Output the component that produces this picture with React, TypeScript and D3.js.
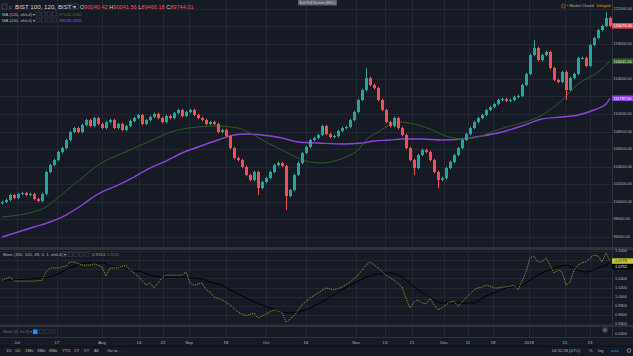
import React, { useEffect } from 'react';
import * as d3 from 'd3';

// ---------- DATA ----------
const closes = [
  99940,100170,100740,100400,100860,100970,100740,100860,100280,100060,
  100860,103370,104170,104740,105660,106110,107030,107940,108400,107940,
  108740,109310,108630,109540,108860,108400,109080,109310,108400,108860,
  108170,108630,109200,109540,109890,108860,109310,109660,110000,109540,
  109080,109770,109540,110110,110460,109770,110230,110460,109890,109540,
  109310,108860,109080,108860,107940,108170,107480,106110,104970,104740,
  103940,103030,102460,103370,101540,102230,102680,103370,104170,104400,
  104060,100630,101310,103030,104400,105540,106230,107030,107260,107600,
  108630,107710,107370,107480,108060,108400,108510,109310,110230,111600,
  112740,114110,113310,112970,111600,110460,109080,108630,109540,108400,
  107600,106110,104740,103830,105310,105880,105660,104740,103370,102460,
  102680,103830,104510,105310,106110,107030,107710,108400,109080,109540,
  109890,110460,110800,111140,111600,111710,111490,111600,111940,112060,
  113310,114570,116740,117540,116170,116740,117090,115260,113890,113660,
  114800,112740,114110,114570,116400,116400,115490,117890,118690,119600,
  120060,120970,120076,
];
const firstOpen = 99800;
// notable wick extremes: [barIndex, high, low]
const wickExtremes: [number, number | null, number | null][] = [
  [64, null, 100740], [71, null, 99030], [91, 115260, null], [103, null, 103030],
  [109, null, 101540], [133, 118460, null], [141, null, 111600], [151, 121660, null],
];
const wickPad = 150;

const ma120Idx = [0,10,13,16,20,24,29,32,37,43,49,53,59,62,66,70,74,77,80,83,86,89,91,94,96,99,103,107,111,115,119,123,127,130,133,137,140,144,149,152];
const ma120Val = [98226,99140,100055,101198,102684,104170,105313,105884,106913,108056,108513,108627,108399,107827,106798,105884,104970,104512,104398,104627,105084,105884,107027,107941,108513,109084,108856,108284,107484,107141,107370,108056,108627,108970,109427,110456,111599,113428,114799,116041];

const ma240Idx = [0,8,12,16,20,24,29,33,37,41,45,49,54,58,61,65,70,74,79,85,90,93,97,100,105,110,115,120,125,130,135,140,144,148,151,152];
const ma240Val = [95940,97083,97654,98455,99598,100855,101884,102798,103827,104627,105541,106227,107027,107599,107713,107599,107256,106798,106684,106570,106684,106913,107027,107141,107141,107027,107141,107484,107941,108627,109427,109656,109885,110456,111142,111797];

const momIdx = [0,2,3,6,8,10,11,12,14,16,17,18,20,22,23,25,26,27,29,31,32,33,35,36,37,38,40,41,43,45,46,47,48,50,51,52,53,55,57,59,61,63,64,66,68,70,71,73,75,77,79,81,83,85,87,89,91,92,94,96,98,100,101,102,103,104,105,106,107,108,109,110,111,112,113,114,115,116,117,118,119,120,121,122,123,124,125,126,127,128,129,130,131,132,133,134,135,136,137,138,139,140,141,142,143,144,145,146,147,148,149,150,151,152];
const momVal = [1.036,1.043,1.034,1.034,1.034,1.036,1.054,1.063,1.063,1.067,1.076,1.076,1.069,1.069,1.072,1.065,1.045,1.063,1.063,1.069,1.058,1.052,1.036,1.025,1.030,1.019,1.041,1.047,1.047,1.047,1.054,1.030,1.025,1.030,1.015,1.010,0.999,0.993,0.982,0.966,0.958,0.964,0.953,0.962,0.971,0.966,0.944,0.958,0.982,0.997,1.008,1.019,1.015,1.021,1.032,1.047,1.069,1.076,1.063,1.047,1.036,1.021,0.997,0.975,0.988,0.993,0.986,0.984,0.997,0.982,0.971,0.975,0.982,0.988,0.990,0.979,0.988,0.997,1.006,1.015,1.019,1.021,1.025,1.023,1.019,1.019,1.021,1.021,1.023,1.025,1.015,1.034,1.054,1.085,1.089,1.076,1.076,1.085,1.069,1.052,1.058,1.054,1.025,1.032,1.058,1.069,1.074,1.076,1.085,1.091,1.089,1.076,1.096,1.0779];

const momSigIdx = [0,10,12,15,18,22,25,27,30,32,35,37,40,45,47,50,52,55,57,62,67,72,77,82,87,92,97,100,103,106,110,115,118,120,123,126,130,132,135,139,141,144,146,149,151,152];
const momSigVal = [1.036,1.041,1.043,1.054,1.067,1.074,1.074,1.067,1.063,1.058,1.054,1.047,1.043,1.043,1.041,1.039,1.032,1.025,1.015,0.993,0.975,0.964,0.975,0.999,1.025,1.045,1.052,1.043,1.021,1.004,0.986,0.986,0.986,0.997,1.008,1.019,1.025,1.036,1.052,1.065,1.069,1.058,1.054,1.063,1.069,1.0752];

const priceTicks = [96000,98000,100000,102000,104000,106000,108000,110000,112000,114000,116000,118000,120000,122000];
const momTicks = [0.94,0.96,0.98,1.0,1.02,1.04,1.06,1.08,1.10];
const timeLabels = ['Jul','17','Aug','14','22','Sep','18','Oct','16','Nov','13','21','Dec','11','18','2018','15','23'];
const timePos = [3.75,13.75,25,34.25,40.25,46.75,56,66,76,88.5,95.75,102.5,110.5,116.5,122.75,131.75,140.75,147];
const rangeButtons = ['1D','5D','1Mo','3Mo','6Mo','YTD','1Y','5Y','All','Go to...'];
const rangeButtonX = [6,15,25,37,49,62,74,84,94,107];

// ---------- STYLE ----------
const BG = '#161a25';
const GRID = '#232734';
const SEP = '#2e323e';
const TXT = '#b2b5be';
const UP = '#26a69a';
const DOWN = '#ef5350';
const FONT = '"Liberation Sans", Arial, sans-serif';
const W = 633, H = 356;
const PR = 612;
const AX_FS = 3.9;

export default function App() {
  useEffect(() => { document.body.style.margin = '0'; }, []);

  const x = d3.scaleLinear().domain([-0.5, closes.length - 0.5]).range([0, PR]);
  const yP = d3.scaleLinear().domain([96000, 122000]).range([236.5, 9]);
  const yM = d3.scaleLinear().domain([0.94, 1.10]).range([324, 251]);

  const candles = closes.map((c, i) => {
    const o = i === 0 ? firstOpen : closes[i - 1];
    let h = Math.max(o, c) + wickPad;
    let l = Math.min(o, c) - wickPad;
    const ex = wickExtremes.find(e => e[0] === i);
    if (ex) { if (ex[1] != null) h = ex[1]; if (ex[2] != null) l = ex[2]; }
    return { i, o, h, l, c };
  });

  const lineP = d3.line<[number, number]>().x(d => x(d[0])).y(d => yP(d[1])).curve(d3.curveMonotoneX);
  const lineM = d3.line<[number, number]>().x(d => x(d[0])).y(d => yM(d[1])).curve(d3.curveLinear);
  const lineMs = d3.line<[number, number]>().x(d => x(d[0])).y(d => yM(d[1])).curve(d3.curveMonotoneX);

  const ma120 = ma120Idx.map((k, j) => [k, ma120Val[j]] as [number, number]);
  const ma240 = ma240Idx.map((k, j) => [k, ma240Val[j]] as [number, number]);
  const mom = momIdx.map((k, j) => [k, momVal[j]] as [number, number]);
  const momSig = momSigIdx.map((k, j) => [k, momSigVal[j]] as [number, number]);

  const lastC = closes[closes.length - 1];
  const lastG = ma120Val[ma120Val.length - 1];
  const lastPu = ma240Val[ma240Val.length - 1];
  const lastM = momVal[momVal.length - 1];
  const lastMs = momSigVal[momSigVal.length - 1];

  const markerYs = [yP(lastC), yP(lastG), yP(lastPu)];
  const momMarkerYs = [yM(lastM), yM(lastM) + 5.6];

  const priceLabel = (v: number, bg: string, fg: string) => (
    <g>
      <rect x={PR} y={yP(v) - 2.8} width={W - PR} height={5.6} fill={bg} />
      <text x={PR + 1.6} y={yP(v) + 1.4} fontSize={AX_FS} fill={fg} fontFamily={FONT}>{v.toFixed(2)}</text>
    </g>
  );

  return (
    <svg width={W} height={H} style={{ position: 'absolute', left: 0, top: 0, display: 'block' }}>
      <defs>
        <clipPath id="mainClip"><rect x={0} y={0} width={PR} height={247} /></clipPath>
        <clipPath id="momClip"><rect x={0} y={250} width={PR} height={75} /></clipPath>
      </defs>
      <rect x={0} y={0} width={W} height={H} fill={BG} />

      {/* vertical grid */}
      {timePos.map((p, k) => (
        <line key={'vg' + k} x1={Math.round(x(p)) + 0.5} x2={Math.round(x(p)) + 0.5} y1={0} y2={338} stroke={GRID} strokeWidth={1} />
      ))}
      {/* horizontal grid */}
      {priceTicks.map(t => (
        <line key={'hg' + t} x1={0} x2={PR} y1={Math.round(yP(t)) + 0.5} y2={Math.round(yP(t)) + 0.5} stroke={GRID} />
      ))}
      {momTicks.map(t => (
        <line key={'mg' + t} x1={0} x2={PR} y1={Math.round(yM(t)) + 0.5} y2={Math.round(yM(t)) + 0.5} stroke={GRID} />
      ))}

      {/* main pane */}
      <g clipPath="url(#mainClip)">
        <path d={lineP(ma240) || ''} fill="none" stroke="#8a45d8" strokeWidth={1.4} />
        <path d={lineP(ma120) || ''} fill="none" stroke="#2f5a22" strokeWidth={1} />
        {candles.map(d => {
          const cx = Math.round(x(d.i));
          const col = d.c >= d.o ? UP : DOWN;
          const top = yP(Math.max(d.o, d.c));
          const bot = yP(Math.min(d.o, d.c));
          return (
            <g key={d.i}>
              <rect x={cx} y={yP(d.h)} width={1} height={Math.max(1, yP(d.l) - yP(d.h))} fill={col} />
              <rect x={cx - 1} y={top} width={3} height={Math.max(1, bot - top)} fill={col} />
            </g>
          );
        })}
      </g>

      {/* momentum pane */}
      <g clipPath="url(#momClip)">
        <path d={lineMs(momSig) || ''} fill="none" stroke="#000000" strokeWidth={1} />
        <path d={lineM(mom) || ''} fill="none" stroke="#9e9e2a" strokeWidth={1} strokeDasharray="1,1" />
      </g>

      {/* separators */}
      <rect x={0} y={247} width={W} height={3} fill={SEP} />
      <rect x={0} y={325} width={W} height={2} fill={SEP} />
      <rect x={0} y={337} width={W} height={1} fill={SEP} />
      <rect x={0} y={346} width={W} height={1} fill="#0e1118" />
      <rect x={PR} y={0} width={1} height={338} fill={SEP} />

      {/* price axis */}
      {priceTicks.filter(t => markerYs.every(m => Math.abs(m - yP(t)) > 5.5)).map(t => (
        <text key={'pt' + t} x={PR + 1.6} y={yP(t) + 1.4} fontSize={AX_FS} fill={TXT} fontFamily={FONT}>{t.toFixed(2)}</text>
      ))}
      {priceLabel(lastC, '#e8455a', '#ffffff')}
      {priceLabel(lastG, '#2f5a22', '#e8eadf')}
      {priceLabel(lastPu, '#8a45d8', '#ffffff')}

      {/* momentum axis */}
      {momTicks.filter(t => momMarkerYs.every(m => Math.abs(m - yM(t)) > 5)).map(t => (
        <text key={'mt' + t} x={PR + 3} y={yM(t) + 1.4} fontSize={AX_FS} fill={TXT} fontFamily={FONT}>{t.toFixed(4)}</text>
      ))}
      <rect x={PR} y={yM(lastM) - 2.8} width={W - PR} height={5.6} fill="#c4c43a" />
      <text x={PR + 3} y={yM(lastM) + 1.4} fontSize={AX_FS} fill="#161a25" fontFamily={FONT}>{lastM.toFixed(4)}</text>
      <rect x={PR} y={yM(lastM) + 2.8} width={W - PR} height={5.6} fill="#000000" />
      <text x={PR + 3} y={yM(lastM) + 7} fontSize={AX_FS} fill="#ffffff" fontFamily={FONT}>{lastMs.toFixed(4)}</text>
      <text x={PR + 3} y={335.3} fontSize={AX_FS} fill={TXT} fontFamily={FONT}>0.0000</text>
      <circle cx={605} cy={330} r={3.2} fill="#2a2e39" />
      <circle cx={605} cy={330} r={1.3} fill="none" stroke="#9598a1" strokeWidth={0.7} />

      {/* time axis */}
      {timeLabels.map((l, k) => (
        <text key={'tl' + k} x={x(timePos[k])} y={343.5} fontSize={4.3} fill={TXT} textAnchor="middle" fontFamily={FONT}>{l}</text>
      ))}

      {/* bottom toolbar */}
      {rangeButtons.map((b, k) => (
        <text key={'rb' + k} x={rangeButtonX[k]} y={352} fontSize={4.3} fill={TXT} fontFamily={FONT}>{b}</text>
      ))}
      <text x={552} y={352} fontSize={4.1} fill={TXT} fontFamily={FONT}>04:52:28 (UTC)</text>
      <text x={589} y={352} fontSize={4.1} fill={TXT} fontFamily={FONT}>%</text>
      <text x={598} y={352} fontSize={4.1} fill={TXT} fontFamily={FONT}>log</text>
      <text x={611} y={352} fontSize={4.1} fill="#2196f3" fontFamily={FONT}>auto</text>
      <circle cx={629} cy={350.5} r={1.8} fill="none" stroke={TXT} strokeWidth={0.7} />

      {/* header */}
      <rect x={2} y={4} width={5} height={5} fill="none" stroke="#5d606b" strokeWidth={0.6} />
      <text x={9} y={8.6} fontSize={5} fill="#787b86" fontFamily={FONT}>≡</text>
      <text x={15} y={9} fontSize={6.2} fill="#d1d4dc" fontFamily={FONT}>BIST 100, 120, BIST ▾</text>
      <rect x={68} y={4} width={4.5} height={4.5} fill="none" stroke="#4a4e5a" strokeWidth={0.6} />
      <rect x={74} y={4} width={4.5} height={4.5} fill="none" stroke="#4a4e5a" strokeWidth={0.6} />
      <text x={80} y={9} fontSize={5.6} fontFamily={FONT}>
        <tspan fill="#d1d4dc">O</tspan><tspan fill="#ef5350">90040.42 </tspan>
        <tspan fill="#d1d4dc">H</tspan><tspan fill="#ef5350">90041.56 </tspan>
        <tspan fill="#d1d4dc">L</tspan><tspan fill="#ef5350">89460.18 </tspan>
        <tspan fill="#d1d4dc">C</tspan><tspan fill="#ef5350">89744.01</tspan>
      </text>
      <text x={2} y={15.5} fontSize={4.3} fill={TXT} fontFamily={FONT}>MA (120, ohlc4) ▾</text>
      {[36, 41.5, 47, 52.5].map(bx => <rect key={'b1' + bx} x={bx} y={12} width={4} height={4} fill="none" stroke="#3a3e4a" strokeWidth={0.6} />)}
      <text x={59} y={15.5} fontSize={4.3} fill="#3e7a2c" fontFamily={FONT}>97144.1082</text>
      <text x={2} y={21.5} fontSize={4.3} fill={TXT} fontFamily={FONT}>MA (240, ohlc4) ▾</text>
      {[36, 41.5, 47, 52.5].map(bx => <rect key={'b2' + bx} x={bx} y={18} width={4} height={4} fill="none" stroke="#3a3e4a" strokeWidth={0.6} />)}
      <text x={59} y={21.5} fontSize={4.3} fill="#9b59e0" fontFamily={FONT}>98228.1692</text>

      {/* exit full screen */}
      <rect x={298} y={-1} width={39} height={6.5} rx={1} fill="#5d606b" />
      <text x={317.5} y={3.6} fontSize={3.6} fill="#d1d4dc" textAnchor="middle" fontFamily={FONT}>Exit Full Screen (ESC)</text>

      {/* market status */}
      <circle cx={563.5} cy={6} r={2.2} fill="#3a2a1a" stroke="#a0652a" strokeWidth={0.5} />
      <text x={567} y={7.4} fontSize={3.8} fill={TXT} fontFamily={FONT}>• Market Closed</text>
      <text x={596.5} y={7.4} fontSize={3.8} fill="#ff9800" fontFamily={FONT}>Delayed</text>

      {/* mom legend */}
      <text x={3} y={256} fontSize={4.3} fill={TXT} fontFamily={FONT}>Mom (180, 120, 48, 6, 1, ohlc4) ▾</text>
      {[63, 68.5, 74, 79.5, 85].map(bx => <rect key={'b3' + bx} x={bx} y={252.5} width={4} height={4} fill="none" stroke="#3a3e4a" strokeWidth={0.6} />)}
      <text x={92} y={256} fontSize={4.3} fill="#b0b030" fontFamily={FONT}>0.9163</text>
      <text x={107} y={256} fontSize={4.3} fill="#6a6d78" fontFamily={FONT}>0.90%</text>

      {/* lower pane legend */}
      <text x={3} y={333} fontSize={4.3} fill="#6a6d78" fontFamily={FONT}>Mom (6, hlc3) ▾</text>
      <rect x={33} y={329.5} width={4.5} height={4.5} fill="#2196f3" />
      {[39.5, 45, 51].map(bx => <rect key={'b4' + bx} x={bx} y={329.5} width={4} height={4} fill="none" stroke="#3a3e4a" strokeWidth={0.6} />)}
    </svg>
  );
}
